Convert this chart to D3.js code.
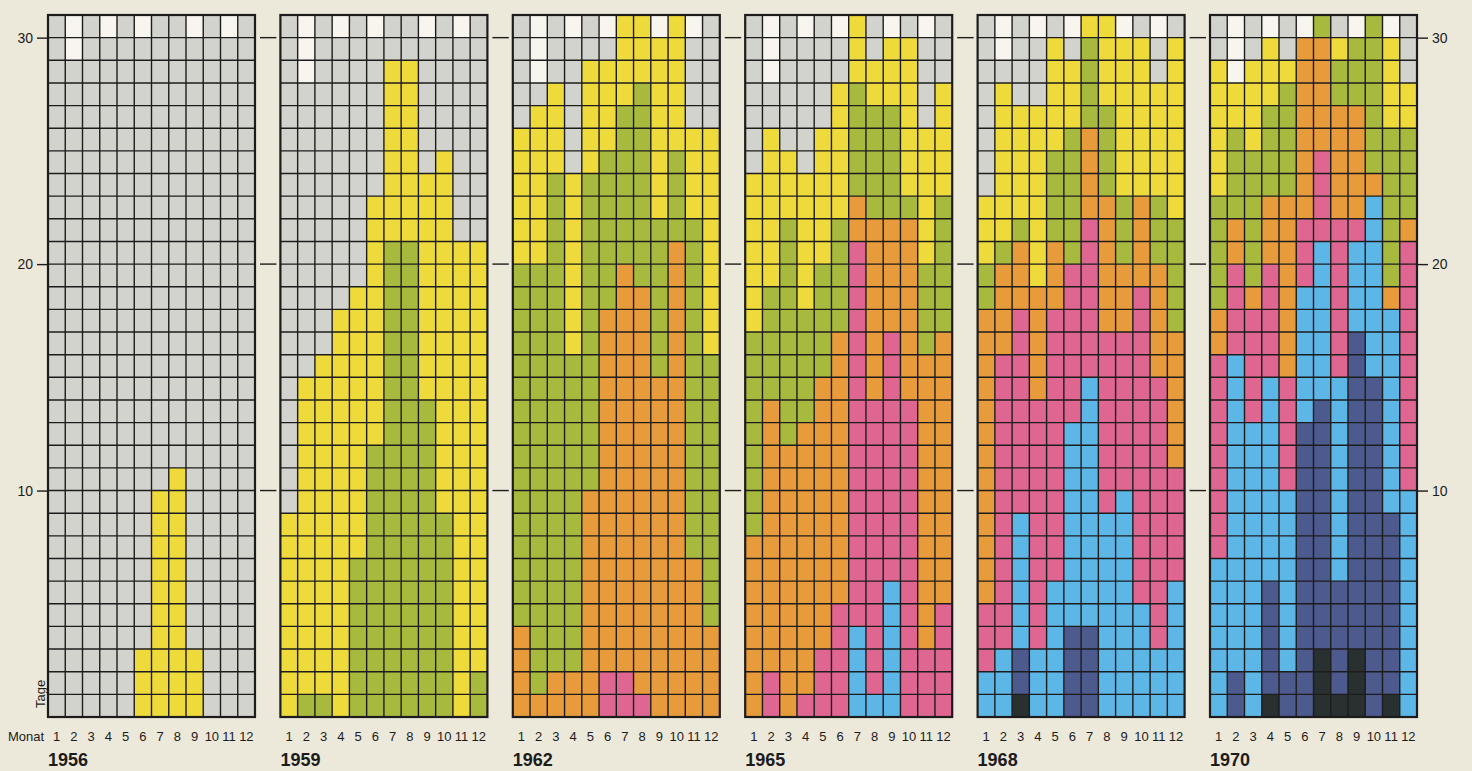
<!DOCTYPE html>
<html>
<head>
<script src="https://cdnjs.cloudflare.com/ajax/libs/d3/7.8.5/d3.min.js"></script>
<style>
  body { margin: 0; background: #ece8da; }
  svg { display: block; font-family: "Liberation Sans", Arial, sans-serif; }
</style>
</head>
<body>
<svg id="chart" width="1472" height="771"></svg>
<script>
// category order from the bottom of each month column upwards
const categories = ["black", "navy", "blue", "pink", "orange", "green", "yellow", "gray"];
const catColors = ["#283030", "#4c5a8e", "#5cb6e6", "#de6690", "#e89b3a", "#a8ba3e", "#efda3c", "#d3d3ce"];
const years = ["1956", "1959", "1962", "1965", "1968", "1970"];
const months = [1, 2, 3, 4, 5, 6, 7, 8, 9, 10, 11, 12];
const dayTicks = [10, 20, 30];

// days per month (cells above are blank)
const daysNormal = [31, 28, 31, 30, 31, 30, 31, 31, 30, 31, 30, 31];
const daysLeap   = [31, 29, 31, 30, 31, 30, 31, 31, 30, 31, 30, 31];

// number of days per category, one row of 12 months per category
const counts1956 = [
  [0,0,0,0,0,0,0,0,0,0,0,0],
  [0,0,0,0,0,0,0,0,0,0,0,0],
  [0,0,0,0,0,0,0,0,0,0,0,0],
  [0,0,0,0,0,0,0,0,0,0,0,0],
  [0,0,0,0,0,0,0,0,0,0,0,0],
  [0,0,0,0,0,0,0,0,0,0,0,0],
  [0,0,0,0,0,3,10,11,3,0,0,0],
  [31,29,31,30,31,27,21,20,27,31,30,31]
];
const counts1959 = [
  [0,0,0,0,0,0,0,0,0,0,0,0],
  [0,0,0,0,0,0,0,0,0,0,0,0],
  [0,0,0,0,0,0,0,0,0,0,0,0],
  [0,0,0,0,0,0,0,0,0,0,0,0],
  [0,0,0,0,0,0,0,0,0,0,0,0],
  [0,1,1,0,7,12,21,21,14,9,0,2],
  [9,14,15,18,12,11,8,8,10,16,21,19],
  [22,13,15,12,12,7,2,2,6,6,9,10]
];
const counts1962 = [
  [0,0,0,0,0,0,0,0,0,0,0,0],
  [0,0,0,0,0,0,0,0,0,0,0,0],
  [0,0,0,0,0,0,0,0,0,0,0,0],
  [0,0,0,0,0,2,2,1,0,0,0,0],
  [4,1,2,2,10,16,18,18,15,21,7,4],
  [16,19,22,14,14,7,7,9,7,4,15,12],
  [6,7,4,8,5,4,4,3,8,6,4,10],
  [5,1,3,6,2,1,0,0,0,0,4,5]
];
const counts1965 = [
  [0,0,0,0,0,0,0,0,0,0,0,0],
  [0,0,0,0,0,0,0,0,0,0,0,0],
  [0,0,0,0,0,0,4,1,6,0,0,0],
  [0,2,0,1,3,5,17,13,11,14,3,5],
  [8,12,12,12,12,12,2,8,5,8,13,12],
  [9,5,10,5,5,5,5,5,5,1,4,6],
  [7,7,3,6,6,6,3,2,3,7,6,5],
  [7,2,6,6,5,2,0,2,0,1,4,3]
];
const counts1968 = [
  [0,0,1,0,0,0,0,0,0,0,0,0],
  [0,0,2,0,0,4,4,0,0,0,0,0],
  [2,3,6,3,6,9,11,9,10,5,3,6],
  [3,13,9,11,12,7,7,8,7,14,12,5],
  [13,4,3,5,3,0,4,6,3,4,5,6],
  [2,1,1,0,4,6,4,4,3,0,3,5],
  [3,7,5,8,5,3,1,4,7,7,5,8],
  [8,1,4,3,1,1,0,0,0,1,2,1]
];
const counts1970 = [
  [0,0,0,1,0,0,3,1,3,0,1,0],
  [0,2,0,5,2,13,11,5,14,15,8,0],
  [7,14,13,9,8,6,7,9,4,8,9,10],
  [9,4,5,5,5,3,4,7,1,0,0,11],
  [2,2,1,3,8,8,5,5,5,1,1,1],
  [5,4,6,4,5,0,1,2,3,7,7,4],
  [6,2,4,3,1,0,0,1,0,0,4,2],
  [2,0,2,0,2,0,0,1,0,0,0,3]
];
const panelCounts = [counts1956, counts1959, counts1962, counts1965, counts1968, counts1970];
const panelDays = [daysLeap, daysNormal, daysNormal, daysNormal, daysLeap, daysNormal];

const svg = d3.select("#chart");
const ink = "#1c1c1c";

const xPanel = d3.scaleBand().domain(years).range([48, 1417]).paddingInner(0.1093);
const xMonth = d3.scaleBand().domain(months).range([0, xPanel.bandwidth()]);
const y = d3.scaleLinear().domain([0, 31]).range([717, 15]);
const color = d3.scaleOrdinal().domain(categories).range(catColors);

years.forEach((yr, i) => {
  const counts = panelCounts[i];
  const rows = months.map((m, j) => {
    const r = { month: m };
    categories.forEach((c, k) => r[c] = counts[k][j]);
    return r;
  });
  const series = d3.stack().keys(categories)(rows);

  const g = svg.append("g").attr("transform", `translate(${xPanel(yr)},0)`);

  // blank background (days that don't exist)
  g.append("rect")
    .attr("x", 0).attr("y", y(31))
    .attr("width", xPanel.bandwidth()).attr("height", y(0) - y(31))
    .attr("fill", "#f7f5ee");

  g.selectAll("g.series")
    .data(series)
    .join("g")
    .attr("fill", d => color(d.key))
    .selectAll("rect")
    .data(d => d.filter(s => s[1] > s[0]))
    .join("rect")
    .attr("x", d => xMonth(d.data.month))
    .attr("width", xMonth.bandwidth())
    .attr("y", d => y(d[1]))
    .attr("height", d => y(d[0]) - y(d[1]));

  // grid
  g.selectAll("line.h")
    .data(d3.range(1, 31))
    .join("line")
    .attr("x1", 0).attr("x2", xPanel.bandwidth())
    .attr("y1", d => y(d)).attr("y2", d => y(d))
    .attr("stroke", ink).attr("stroke-width", 1.4);
  g.selectAll("line.v")
    .data(months.slice(1))
    .join("line")
    .attr("x1", d => xMonth(d)).attr("x2", d => xMonth(d))
    .attr("y1", y(31)).attr("y2", y(0))
    .attr("stroke", ink).attr("stroke-width", 1.4);
  g.append("rect")
    .attr("x", 0).attr("y", y(31))
    .attr("width", xPanel.bandwidth()).attr("height", y(0) - y(31))
    .attr("fill", "none").attr("stroke", ink).attr("stroke-width", 2.2);

  // month labels
  g.selectAll("text.m")
    .data(months)
    .join("text")
    .attr("x", d => xMonth(d) + xMonth.bandwidth() / 2)
    .attr("y", 741)
    .attr("text-anchor", "middle")
    .attr("font-size", 13)
    .attr("fill", ink)
    .text(d => d);

  // year label
  g.append("text")
    .attr("x", 0).attr("y", 766)
    .attr("font-size", 18)
    .attr("font-weight", "bold")
    .attr("fill", ink)
    .text(yr);

  // dashes in the gap to the next panel
  if (i < years.length - 1) {
    const gap0 = xPanel.bandwidth() + 5;
    const gap1 = xPanel(years[i + 1]) - xPanel(yr) - 4;
    g.selectAll("line.dash")
      .data(dayTicks)
      .join("line")
      .attr("x1", gap0).attr("x2", gap1)
      .attr("y1", d => y(d)).attr("y2", d => y(d))
      .attr("stroke", ink).attr("stroke-width", 1.4);
  }
});

// left and right day axes
const axisL = d3.axisLeft(y).tickValues(dayTicks).tickSize(10).tickPadding(4);
const gl = svg.append("g").attr("transform", `translate(${xPanel(years[0]) - 1},0)`).call(axisL);
const axisR = d3.axisRight(y).tickValues(dayTicks).tickSize(10).tickPadding(4);
const gr = svg.append("g").attr("transform", `translate(${xPanel(years[5]) + xPanel.bandwidth() + 1},0)`).call(axisR);
[gl, gr].forEach(a => {
  a.select(".domain").remove();
  a.selectAll("line").attr("stroke", ink).attr("stroke-width", 1.4);
  a.selectAll("text").attr("font-size", 14).attr("fill", ink)
    .attr("font-family", "'Liberation Sans', Arial, sans-serif");
});

svg.append("text")
  .attr("x", 8).attr("y", 741)
  .attr("font-size", 13).attr("fill", ink)
  .text("Monat");

svg.append("text")
  .attr("transform", "translate(45,708) rotate(-90)")
  .attr("font-size", 13).attr("fill", ink)
  .text("Tage");
</script>
</body>
</html>
